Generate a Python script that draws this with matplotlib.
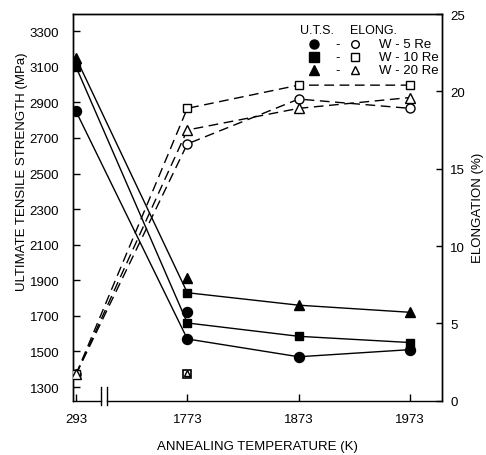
import matplotlib
matplotlib.use("Agg")
import matplotlib.pyplot as plt
import matplotlib.transforms as mtransforms

plt.rcParams['font.family'] = ['Liberation Sans', 'DejaVu Sans']

# Annealing temperatures (K), drawn at evenly spaced positions with an axis break
temp_labels = ["293", "1773", "1873", "1973"]
temp_pos = [0, 1, 2, 3]

# Ultimate tensile strength (MPa) traces
uts_w5 = [2850, 1570, 1470, 1510]
uts_w10 = [3100, 1660, 1585, 1550]
uts_w20 = [3150, 1830, 1760, 1720]

# Plotted UTS symbols (position index, MPa)
uts_circles = [(0, 2850), (1, 1720), (1, 1570), (2, 1470), (3, 1510)]
uts_squares = [(0, 3100), (1, 1830), (1, 1660), (2, 1585), (3, 1550)]
uts_triangles = [(0, 3150), (1, 1910), (2, 1760), (3, 1720)]

# Elongation (%) traces
elong_w5 = [1.7, 16.6, 19.5, 18.9]
elong_w10 = [1.7, 18.9, 20.4, 20.4]
elong_w20 = [1.7, 17.5, 18.9, 19.6]
# additional open symbols at 1773 K
elong_extra_squares = [(1, 1.7)]
elong_extra_triangles = [(1, 1.8)]

uts_ticks = list(range(1300, 3301, 200))
elong_ticks = [0, 5, 10, 15, 20, 25]

fig = plt.figure(figsize=(4.86, 4.56), dpi=100)
ax = fig.add_axes([73 / 486, 1 - 401.7 / 456, 368.7 / 486, 386.7 / 456])
ax2 = ax.twinx()

FS = 9.5
xl = (-0.027, 3.285)
ax.set_xlim(*xl)
ax.set_ylim(1223, 3397)
ax2.set_ylim(0, 25)

# UTS: solid lines
for vals in (uts_w5, uts_w10, uts_w20):
    ax.plot(temp_pos, vals, color='black', lw=1.0, zorder=3)
ax.plot([p for p, _ in uts_circles], [v for _, v in uts_circles], 'o', ms=7.2,
        color='black', zorder=4)
ax.plot([p for p, _ in uts_squares], [v for _, v in uts_squares], 's', ms=6.2,
        color='black', zorder=4)
ax.plot([p for p, _ in uts_triangles], [v for _, v in uts_triangles], '^', ms=7.0,
        color='black', zorder=4)

# Elongation: dashed lines with open symbols
dash = (0, (7, 4))
open_kw = dict(mfc='white', mec='black', mew=1.0, color='black', lw=1.0,
               linestyle=dash, zorder=3)
ax2.plot(temp_pos, elong_w5, marker='o', ms=6.5, **open_kw)
ax2.plot(temp_pos, elong_w10, marker='s', ms=6.0, **open_kw)
ax2.plot(temp_pos, elong_w20, marker='^', ms=6.5, **open_kw)
ax2.plot([p for p, _ in elong_extra_squares], [v for _, v in elong_extra_squares],
         's', ms=6.0, mfc='white', mec='black', mew=1.2, zorder=4)
ax2.plot([p for p, _ in elong_extra_triangles], [v for _, v in elong_extra_triangles],
         '^', ms=5.0, mfc='white', mec='black', mew=1.0, zorder=4)

# Ticks and labels
ax.set_xticks(temp_pos)
ax.set_xticklabels(temp_labels, fontsize=FS)
ax.set_yticks(uts_ticks)
ax.set_yticklabels([str(t) for t in uts_ticks], fontsize=FS)
ax2.set_yticks(elong_ticks)
ax2.set_yticklabels([str(t) for t in elong_ticks], fontsize=FS)
ax.tick_params(axis='y', direction='in', length=5, width=1, pad=10, right=False)
ax.tick_params(axis='x', direction='in', length=5, width=1, pad=9, top=False)
ax2.tick_params(axis='y', direction='in', length=4, width=1, pad=6)

ax.set_ylabel("ULTIMATE TENSILE STRENGTH (MPa)", fontsize=FS, labelpad=1, y=0.594)
ax2.set_ylabel("ELONGATION (%)", fontsize=FS, labelpad=5)
ax.set_xlabel("ANNEALING TEMPERATURE (K)", fontsize=FS, labelpad=11)

for s in ax.spines.values():
    s.set_linewidth(1.0)
for s in ax2.spines.values():
    s.set_linewidth(1.0)

# Broken x axis
ax.spines['bottom'].set_visible(False)
ax2.spines['bottom'].set_visible(False)
btrans = mtransforms.blended_transform_factory(ax.transData, ax.transAxes)
b1, b2 = 0.225, 0.279
ax.plot([xl[0], b1], [0, 0], color='black', lw=1.0, transform=btrans, clip_on=False)
ax.plot([b2, xl[1]], [0, 0], color='black', lw=1.0, transform=btrans, clip_on=False)
for b in (b1, b2):
    ax.plot([b, b], [-0.012, 0.035], color='black', lw=1.0, transform=btrans,
            clip_on=False)

# Key
T = ax.transAxes
ax.text(0.662, 0.959, "U.T.S.", transform=T, ha='center', va='center', fontsize=FS - 0.5)
ax.text(0.814, 0.959, "ELONG.", transform=T, ha='center', va='center', fontsize=FS - 0.5)
rows = [(0.922, 'o', "W - 5 Re"), (0.888, 's', "W - 10 Re"), (0.855, '^', "W - 20 Re")]
for y, m, lab in rows:
    ax.plot([0.654], [y], m, ms=6.5, color='black', transform=T, clip_on=False)
    ax.text(0.719, y, "-", transform=T, ha='center', va='center', fontsize=FS)
    ax.plot([0.765], [y], m, ms=5.5, mfc='white', mec='black', mew=1.0,
            transform=T, clip_on=False)
    ax.text(0.830, y, lab, transform=T, ha='left', va='center', fontsize=FS)

fig.savefig("out.png", dpi=100)
